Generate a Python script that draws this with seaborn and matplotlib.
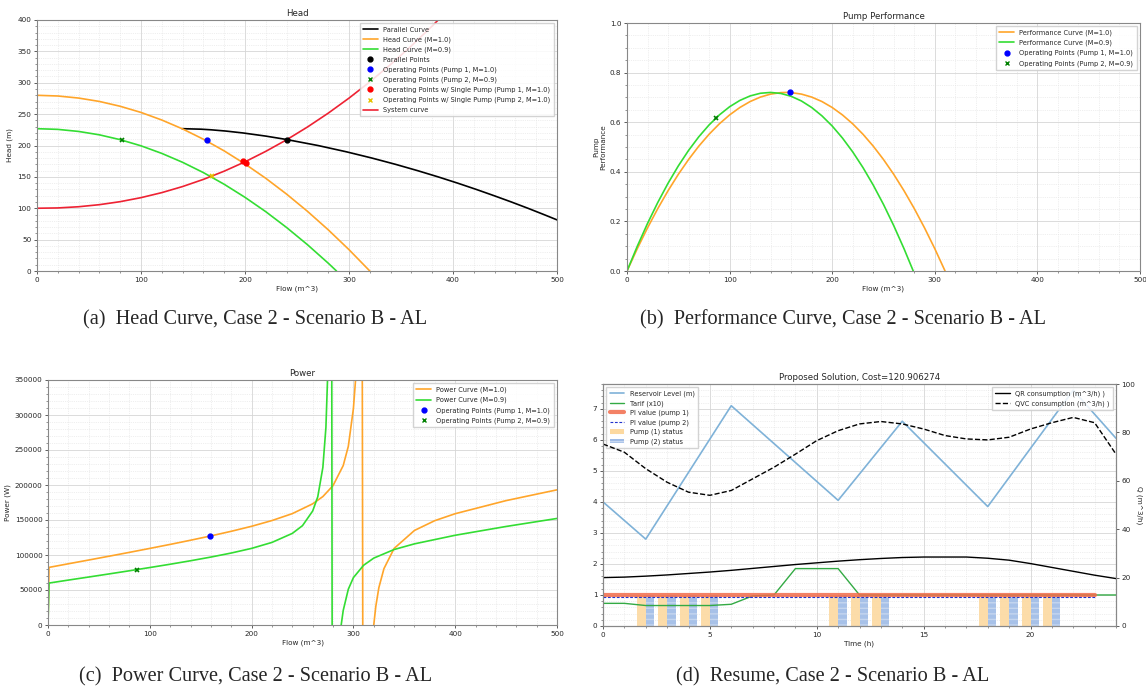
import numpy as np
import pandas as pd
import matplotlib
matplotlib.use("Agg")
import matplotlib.pyplot as plt
from matplotlib.lines import Line2D
from matplotlib.patches import Patch
import seaborn as sns

# ---------------- (a) Head ----------------
head_q_m10 = [0, 20, 40, 60, 80, 100, 120, 140, 160, 180, 200, 220, 240, 260, 280, 300, 320]
head_h_m10 = [280, 278.9, 275.6, 270.2, 262.5, 252.7, 240.6, 226.4, 210, 191.4, 170.6, 147.7, 122.5, 95.2, 65.7, 34, 0]
head_q_m09 = [0, 20, 40, 60, 80, 100, 120, 140, 160, 180, 200, 220, 240, 260, 280, 288]
head_h_m09 = [226.8, 225.7, 222.4, 217, 209.3, 199.5, 187.4, 173.2, 156.8, 138.2, 117.4, 94.5, 69.3, 42, 12.5, 0]
par_q = [139.5, 157.6, 167.5, 181.7, 198.0, 219.9, 238.4, 270.1, 297.4, 322.0, 344.7, 365.8, 385.7,
         404.5, 422.4, 439.5, 456.1, 472.0, 487.3, 502.2]
par_h = [226.8, 226, 225, 223, 220, 215, 210, 200, 190, 180, 170, 160, 150, 140, 130, 120, 110, 100, 90, 80]
sys_q = [0, 20, 40, 60, 80, 100, 120, 140, 160, 180, 200, 220, 240, 260, 280, 300, 320, 340, 360, 380, 400]
sys_h = [100, 100.5, 102.4, 105.7, 110.5, 116.9, 124.9, 134.6, 146, 159.1, 174, 190.7, 209.1, 229.4,
         251.5, 275.5, 301.4, 329.1, 358.8, 390.4, 423.9]
par_pt = (240, 208)
op1_head = (163, 208)
op2_head = (82, 208)
single1_q = [198, 201]
single1_h = [175, 172]
single2 = (168, 151)

# ---------------- (b) Performance ----------------
perf_q_m10 = [0, 10, 20, 30, 40, 50, 60, 70, 80, 90, 100, 110, 120, 130, 140, 150, 155, 160, 170, 180,
              190, 200, 210, 220, 230, 240, 250, 260, 270, 280, 290, 300, 310]
perf_e_m10 = [0, 0.0899, 0.1738, 0.2517, 0.3236, 0.3896, 0.4495, 0.5035, 0.5514, 0.5934, 0.6293, 0.6593,
              0.6833, 0.7013, 0.7133, 0.7193, 0.72, 0.7193, 0.7133, 0.7013, 0.6833, 0.6593, 0.6293, 0.5934,
              0.5514, 0.5035, 0.4495, 0.3896, 0.3236, 0.2517, 0.1738, 0.0899, 0]
perf_q_m09 = [0, 10, 20, 30, 40, 50, 60, 70, 80, 90, 100, 110, 120, 130, 140, 150, 160, 170, 180, 190,
              200, 210, 220, 230, 240, 250, 260, 270, 279]
perf_e_m09 = [0, 0.0995, 0.1917, 0.2764, 0.3537, 0.4236, 0.4862, 0.5413, 0.589, 0.6293, 0.6623, 0.6878,
              0.7059, 0.7167, 0.72, 0.7159, 0.7044, 0.6856, 0.6593, 0.6256, 0.5846, 0.5361, 0.4802, 0.417,
              0.3463, 0.2683, 0.1827, 0.0899, 0]
op1_perf = (159, 0.72)
op2_perf = (87, 0.615)

# ---------------- (c) Power ----------------
pow_q_m10 = [0, 1, 20, 40, 60, 80, 100, 120, 140, 160, 180, 200, 220, 240, 260, 270, 280, 290, 295, 300,
             302, 305, 308, 311, 315, 320, 322, 325, 330, 340, 360, 380, 400, 450, 500]
pow_p_m10 = [0, 82300, 87460, 92830, 98280, 103780, 109420, 115140, 121090, 127290, 133870, 141020,
             149220, 159110, 173120, 183480, 199150, 227800, 255200, 309200, 347800, 467400, 936000,
             -1418000, -158200, 0, 26500, 53300, 80500, 109400, 135100, 149100, 159000, 177700, 193100]
pow_q_m09 = [0, 1, 20, 40, 60, 80, 100, 120, 140, 160, 180, 200, 220, 240, 250, 260, 265, 270, 273, 275,
             278, 280, 285, 288, 290, 295, 300, 310, 320, 340, 360, 400, 450, 500]
pow_p_m09 = [0, 59900, 64170, 68540, 72970, 77470, 82090, 86810, 91770, 97050, 102820, 109450, 117980,
             130870, 141940, 162870, 183160, 225060, 282300, 368200, 1142000, -921500, -57660, 0, 20760,
             51080, 67690, 85310, 95570, 107830, 115930, 128190, 140760, 152200]
op1_pow = (159, 127000)
op2_pow = (87, 78500)

# ---------------- (d) Resume ----------------
res_t = [0, 2, 6, 11, 14, 18, 22, 24]
res_level = [4.0, 2.8, 7.1, 4.05, 6.6, 3.85, 7.6, 6.05]
hours = list(range(25))
tariff = [0.73, 0.73, 0.66, 0.66, 0.66, 0.66, 0.70, 0.97, 1.0, 1.85, 1.85, 1.85, 1.0, 1.0, 1.0, 1.0,
          1.0, 1.0, 1.0, 1.0, 1.0, 1.0, 1.0, 1.0, 1.0]
pi_t = [0, 23]
pi_pump1 = [1.0, 1.0]
pi_pump2 = [0.92, 0.92]
status_hours = list(range(24))
pump1_status = [0, 0, 1, 1, 1, 1, 0, 0, 0, 0, 0, 1, 1, 1, 0, 0, 0, 0, 1, 1, 1, 1, 0, 0]
pump2_status = [0, 0, 1, 1, 1, 1, 0, 0, 0, 0, 0, 1, 1, 1, 0, 0, 0, 0, 1, 1, 1, 1, 0, 0]
qr_cons = [20, 20.2, 20.6, 21.1, 21.7, 22.3, 23.0, 23.8, 24.6, 25.4, 26.1, 26.8, 27.4, 27.9, 28.3, 28.5,
           28.5, 28.5, 28.0, 27.2, 25.8, 24.2, 22.6, 21.0, 19.6]
qvc_cons = [75.2, 71.8, 65, 59.4, 55.3, 54, 56, 60.8, 65.6, 71, 76.6, 80.7, 83.5, 84.5, 83.5, 81.4,
            78.7, 77.3, 76.9, 78, 81.4, 84, 86.2, 84, 71]

captions = ["(a)  Head Curve, Case 2 - Scenario B - AL",
            "(b)  Performance Curve, Case 2 - Scenario B - AL",
            "(c)  Power Curve, Case 2 - Scenario B - AL",
            "(d)  Resume, Case 2 - Scenario B - AL"]

sns.set_theme(style="whitegrid")
plt.rcParams['font.family'] = ['DejaVu Sans']
plt.rcParams['axes.edgecolor'] = '#888888'

W, H = 1146, 691
fig = plt.figure(figsize=(W / 100, H / 100), dpi=100)


def box(l, r, t, b):
    return [l / W, 1 - b / H, (r - l) / W, (b - t) / H]


TS = 5.2


def style(ax):
    ax.minorticks_on()
    ax.grid(which='major', color='#d6d6d6', lw=0.6, ls='-')
    ax.grid(which='minor', color='#e0e0e0', lw=0.5, ls=':')
    ax.tick_params(which='both', labelsize=TS, direction='out', color='#444444',
                   left=True, bottom=True, pad=1.5)
    ax.tick_params(which='major', length=2.5, width=0.6)
    ax.tick_params(which='minor', length=1.5, width=0.4)
    for s in ax.spines.values():
        s.set_color('#888888')
        s.set_linewidth(0.8)


ORANGE = '#ffa52a'
GREEN = '#33dd33'
LEG = dict(fontsize=4.8, framealpha=0.85, borderpad=0.5, labelspacing=0.55,
           handlelength=2.2, fancybox=False, edgecolor='#cccccc')

# ---- (a)
ax = fig.add_axes(box(37, 557, 20, 271))
style(ax)
sns.lineplot(x=par_q, y=par_h, ax=ax, color='black', lw=1.2, estimator=None, sort=False)
sns.lineplot(x=head_q_m10, y=head_h_m10, ax=ax, color=ORANGE, lw=1.2, estimator=None, sort=False)
sns.lineplot(x=head_q_m09, y=head_h_m09, ax=ax, color=GREEN, lw=1.2, estimator=None, sort=False)
sns.lineplot(x=sys_q, y=sys_h, ax=ax, color='#ee2233', lw=1.2, estimator=None, sort=False)
ax.plot([par_pt[0]], [par_pt[1]], 'o', color='black', ms=3.5)
ax.plot([op1_head[0]], [op1_head[1]], 'o', color='blue', ms=3.5)
ax.plot([op2_head[0]], [op2_head[1]], 'x', color='green', ms=3.5, mew=1.2)
ax.plot(single1_q, single1_h, 'o', color='red', ms=3.5, ls='none')
ax.plot([single2[0]], [single2[1]], 'x', color='#e6c200', ms=3.5, mew=1.2)
ax.set_xlim(0, 500)
ax.set_ylim(0, 400)
ax.set_title('Head', fontsize=6.2, pad=3)
ax.set_xlabel('Flow (m^3)', fontsize=TS, labelpad=2)
ax.set_ylabel('Head (m)', fontsize=TS, labelpad=3)
hA = [Line2D([], [], color='black', lw=1.2), Line2D([], [], color=ORANGE, lw=1.2),
      Line2D([], [], color=GREEN, lw=1.2),
      Line2D([], [], color='black', marker='o', ls='none', ms=3.5),
      Line2D([], [], color='blue', marker='o', ls='none', ms=3.5),
      Line2D([], [], color='green', marker='x', ls='none', ms=3.5),
      Line2D([], [], color='red', marker='o', ls='none', ms=3.5),
      Line2D([], [], color='#e6c200', marker='x', ls='none', ms=3.5),
      Line2D([], [], color='#ee2233', lw=1.2)]
lA = ['Parallel Curve', 'Head Curve (M=1.0)', 'Head Curve (M=0.9)', 'Parallel Points',
      'Operating Points (Pump 1, M=1.0)', 'Operating Points (Pump 2, M=0.9)',
      'Operating Points w/ Single Pump (Pump 1, M=1.0)', 'Operating Points w/ Single Pump (Pump 2, M=1.0)',
      'System curve']
ax.legend(hA, lA, loc='upper right', **LEG)

# ---- (b)
ax = fig.add_axes(box(627, 1140, 23, 271))
style(ax)
sns.lineplot(x=perf_q_m10, y=perf_e_m10, ax=ax, color=ORANGE, lw=1.2, estimator=None, sort=False)
sns.lineplot(x=perf_q_m09, y=perf_e_m09, ax=ax, color=GREEN, lw=1.2, estimator=None, sort=False)
ax.plot([op1_perf[0]], [op1_perf[1]], 'o', color='blue', ms=3.5)
ax.plot([op2_perf[0]], [op2_perf[1]], 'x', color='green', ms=3.5, mew=1.2)
ax.set_xlim(0, 500)
ax.set_ylim(0, 1.0)
ax.set_title('Pump Performance', fontsize=6.2, pad=3)
ax.set_xlabel('Flow (m^3)', fontsize=TS, labelpad=2)
ax.set_ylabel('Pump\nPerformance', fontsize=TS, labelpad=3)
hB = [Line2D([], [], color=ORANGE, lw=1.2), Line2D([], [], color=GREEN, lw=1.2),
      Line2D([], [], color='blue', marker='o', ls='none', ms=3.5),
      Line2D([], [], color='green', marker='x', ls='none', ms=3.5)]
lB = ['Performance Curve (M=1.0)', 'Performance Curve (M=0.9)',
      'Operating Points (Pump 1, M=1.0)', 'Operating Points (Pump 2, M=0.9)']
ax.legend(hB, lB, loc='upper right', **LEG)

# ---- (c)
ax = fig.add_axes(box(48, 557, 380, 625))
style(ax)
sns.lineplot(x=pow_q_m10, y=pow_p_m10, ax=ax, color=ORANGE, lw=1.2, estimator=None, sort=False)
sns.lineplot(x=pow_q_m09, y=pow_p_m09, ax=ax, color=GREEN, lw=1.2, estimator=None, sort=False)
ax.plot([op1_pow[0]], [op1_pow[1]], 'o', color='blue', ms=3.5)
ax.plot([op2_pow[0]], [op2_pow[1]], 'x', color='green', ms=3.5, mew=1.2)
ax.set_xlim(0, 500)
ax.set_ylim(0, 350000)
ax.set_title('Power', fontsize=6.2, pad=3)
ax.set_xlabel('Flow (m^3)', fontsize=TS, labelpad=2)
ax.set_ylabel('Power (W)', fontsize=TS, labelpad=3)
hC = [Line2D([], [], color=ORANGE, lw=1.2), Line2D([], [], color=GREEN, lw=1.2),
      Line2D([], [], color='blue', marker='o', ls='none', ms=3.5),
      Line2D([], [], color='green', marker='x', ls='none', ms=3.5)]
lC = ['Power Curve (M=1.0)', 'Power Curve (M=0.9)',
      'Operating Points (Pump 1, M=1.0)', 'Operating Points (Pump 2, M=0.9)']
ax.legend(hC, lC, loc='upper right', **LEG)

# ---- (d)
ax = fig.add_axes(box(603, 1116, 384, 626))
style(ax)
RES = '#7fb2d8'
TAR = '#33aa44'
P1 = '#fcd9a0'
P2 = '#9ebbe6'
p1x = [h - 0.2 for h, s in zip(status_hours, pump1_status) if s]
p1y = [s for s in pump1_status if s]
p2x = [h + 0.2 for h, s in zip(status_hours, pump2_status) if s]
p2y = [s for s in pump2_status if s]
ax.bar(p1x, p1y, width=0.42, color=P1, alpha=0.9, lw=0, zorder=2)
ax.bar(p2x, p2y, width=0.4, color=P2, alpha=0.9, lw=0, hatch='---', edgecolor='#c8d8f0', zorder=2)
sns.lineplot(x=res_t, y=res_level, ax=ax, color=RES, lw=1.2, estimator=None, sort=False, zorder=3)
sns.lineplot(x=hours, y=tariff, ax=ax, color=TAR, lw=1.0, estimator=None, sort=False, zorder=3)
sns.lineplot(x=pi_t, y=pi_pump1, ax=ax, color='#f26b4a', lw=3.0, alpha=0.85, estimator=None, sort=False, zorder=4)
ax.plot(pi_t, pi_pump2, color='#2233cc', lw=0.8, ls=(0, (2.5, 1.5)), zorder=5)
ax.set_xlim(0, 24)
ax.set_ylim(0, 7.8)
ax.set_yticks(range(8))
ax.set_xticks([0, 5, 10, 15, 20])
ax.set_title('Proposed Solution, Cost=120.906274', fontsize=6.2, pad=3)
ax.set_xlabel('Time (h)', fontsize=TS, labelpad=2)
hD = [Line2D([], [], color=RES, lw=1.2), Line2D([], [], color=TAR, lw=1.0),
      Line2D([], [], color='#f26b4a', lw=3.0, alpha=0.85),
      Line2D([], [], color='#2233cc', lw=0.8, ls=(0, (2.5, 1.5))),
      Patch(facecolor=P1, lw=0), Patch(facecolor=P2, lw=0, hatch='---', edgecolor='#c8d8f0')]
lD = ['Reservoir Level (m)', 'Tarif (x10)', 'PI value (pump 1)', 'PI value (pump 2)',
      'Pump (1) status', 'Pump (2) status']
ax.legend(hD, lD, loc='upper left', **dict(LEG, labelspacing=0.45))

ax2 = ax.twinx()
sns.lineplot(x=hours, y=qr_cons, ax=ax2, color='black', lw=1.0, estimator=None, sort=False)
sns.lineplot(x=hours, y=qvc_cons, ax=ax2, color='black', lw=1.0, ls='--', estimator=None, sort=False)
ax2.set_ylim(0, 100)
ax2.set_yticks([0, 20, 40, 60, 80, 100])
ax2.grid(False)
ax2.tick_params(labelsize=TS, right=True, length=2.5, width=0.6, color='#444444', pad=1.5)
ax2.set_ylabel('Q (m^3/h)', fontsize=TS, rotation=270, labelpad=5)
for s in ax2.spines.values():
    s.set_color('#888888')
    s.set_linewidth(0.8)
hD2 = [Line2D([], [], color='black', lw=1.0), Line2D([], [], color='black', lw=1.0, ls='--')]
lD2 = ['QR consumption (m^3/h) )', 'QVC consumption (m^3/h) )']
ax2.legend(hD2, lD2, loc='upper right', **dict(LEG, labelspacing=0.45))

# captions
cap_font = ['Liberation Serif', 'DejaVu Serif']
CF = 14.6
fig.text(255 / W, 1 - 320 / H, captions[0], ha='center', va='center', fontsize=CF, family=cap_font)
fig.text(843 / W, 1 - 320 / H, captions[1], ha='center', va='center', fontsize=CF, family=cap_font)
fig.text(256 / W, 1 - 677 / H, captions[2], ha='center', va='center', fontsize=CF, family=cap_font)
fig.text(833 / W, 1 - 677 / H, captions[3], ha='center', va='center', fontsize=CF, family=cap_font)

fig.savefig('out.png', dpi=100)
